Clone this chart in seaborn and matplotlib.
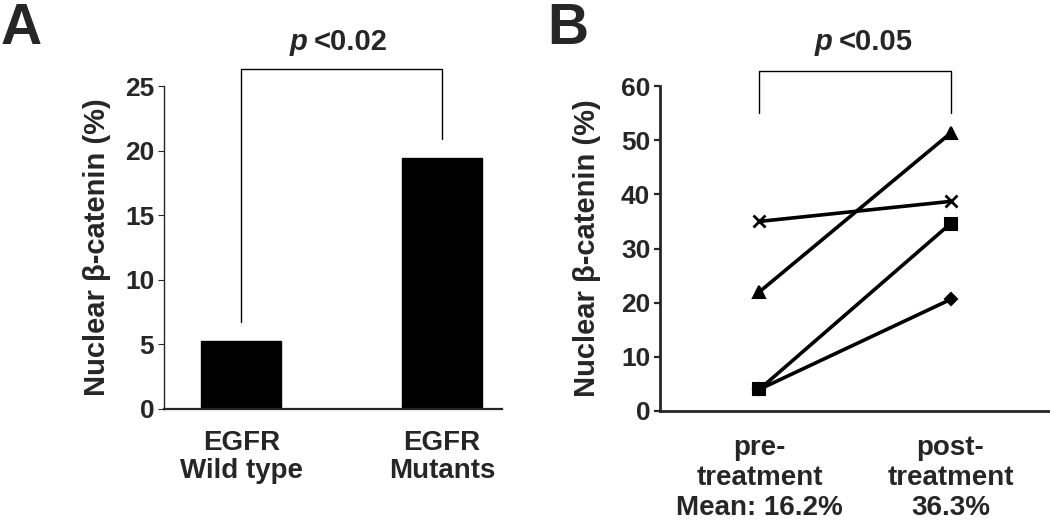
import matplotlib
matplotlib.use("Agg")
import matplotlib.pyplot as plt
import numpy as np
import pandas as pd
import seaborn as sns

# Panel A data
groups = ["EGFR\nWild type", "EGFR\nMutants"]
nuclear_pct = [5.3, 19.4]

# Panel B data (paired samples)
timepoints = ["pre-\ntreatment\nMean: 16.2%", "post-\ntreatment\n36.3%"]
patients = ["P1", "P2", "P3", "P4"]
pre_values = [35.0, 22.0, 4.0, 4.0]
post_values = [38.7, 51.3, 34.6, 20.6]
patient_markers = ["X", "^", "s", "D"]

sns.set_style("ticks")
plt.rcParams["font.family"] = ["Liberation Sans", "DejaVu Sans"]
plt.rcParams["font.weight"] = "bold"

fig = plt.figure(figsize=(10.5, 5.32), dpi=100)
W, H = 1050, 532

def px_axes(left, top, right, bottom):
    return fig.add_axes([left / W, 1 - bottom / H, (right - left) / W, (bottom - top) / H])

TICK_FS = 19
CAT_FS = 20
YLAB_FS = 21
P_FS = 21
LETTER_FS = 41

# ---------------- Panel A ----------------
axA = px_axes(164, 86, 502, 409)
dfA = pd.DataFrame({"group": groups, "value": nuclear_pct})
sns.barplot(data=dfA, x="group", y="value", color="black", width=0.4,
            saturation=1, ax=axA, edgecolor="black")
axA.set_xlim(-0.385, 1.30)
axA.set_ylim(0, 25)
axA.set_yticks([0, 5, 10, 15, 20, 25])
axA.set_xlabel("")
axA.set_ylabel("Nuclear β-catenin (%)", fontsize=YLAB_FS, fontweight="bold", labelpad=10)
axA.tick_params(axis="y", labelsize=TICK_FS, length=4, width=0.8, pad=3)
axA.tick_params(axis="x", labelsize=CAT_FS, length=0, pad=15)
for lab in axA.get_xticklabels():
    lab.set_fontweight("bold")
    lab.set_linespacing(1.1)
for lab in axA.get_yticklabels():
    lab.set_fontweight("bold")
for s in ["top", "right"]:
    axA.spines[s].set_visible(False)
axA.spines["left"].set_linewidth(1.0)
axA.spines["bottom"].set_linewidth(1.6)

# significance bracket A
axA.plot([0, 0, 1, 1], [6.7, 26.3, 26.3, 20.9], color="black", lw=1.0,
         clip_on=False, solid_joinstyle="miter")
fig.text(307 / W, 1 - 50 / H, "p", fontsize=P_FS, fontweight="bold", style="italic",
         ha="right", va="baseline")
fig.text(314 / W, 1 - 50 / H, "<0.02", fontsize=P_FS, fontweight="bold",
         ha="left", va="baseline")
fig.text(1 / W, 1 - 44 / H, "A", fontsize=LETTER_FS, fontweight="bold",
         ha="left", va="baseline")

# ---------------- Panel B ----------------
axB = px_axes(660, 86, 1050, 411)
rows = []
for i, p in enumerate(patients):
    rows.append({"patient": p, "pos": 0, "value": pre_values[i]})
    rows.append({"patient": p, "pos": 1, "value": post_values[i]})
dfB = pd.DataFrame(rows)
sns.lineplot(data=dfB, x="pos", y="value", hue="patient", style="patient",
             markers=dict(zip(patients, patient_markers)), dashes=False,
             palette=["black"] * len(patients), linewidth=2.6, markersize=9,
             markeredgewidth=1.5, markeredgecolor="black", legend=False, ax=axB)
# marker tweaks to match the original symbols
for line, m in zip(axB.get_lines(), patient_markers):
    if m == "D":
        line.set_markersize(6)
    elif m == "X":
        line.set_marker("x")
        line.set_markersize(8)
        line.set_markeredgewidth(2)
    elif m == "s":
        line.set_markersize(8)

axB.set_xlim(-0.52, 1.52)
axB.set_ylim(0, 60)
axB.set_yticks([0, 10, 20, 30, 40, 50, 60])
axB.set_xticks([0, 1])
axB.set_xticklabels(timepoints)
axB.set_xlabel("")
axB.set_ylabel("Nuclear β-catenin (%)", fontsize=YLAB_FS, fontweight="bold", labelpad=14)
axB.tick_params(axis="y", labelsize=TICK_FS, length=4, width=1.6, pad=3)
axB.tick_params(axis="x", labelsize=CAT_FS, length=0, pad=17)
for lab in axB.get_xticklabels():
    lab.set_fontweight("bold")
    lab.set_linespacing(1.22)
for lab in axB.get_yticklabels():
    lab.set_fontweight("bold")
for s in ["top", "right"]:
    axB.spines[s].set_visible(False)
for s in ["left", "bottom"]:
    axB.spines[s].set_linewidth(2.0)

# significance bracket B
axB.plot([0, 0, 1, 1], [55.0, 62.7, 62.7, 55.0], color="black", lw=1.0,
         clip_on=False, solid_joinstyle="miter")
fig.text(832 / W, 1 - 50 / H, "p", fontsize=P_FS, fontweight="bold", style="italic",
         ha="right", va="baseline")
fig.text(839 / W, 1 - 50 / H, "<0.05", fontsize=P_FS, fontweight="bold",
         ha="left", va="baseline")
fig.text(547 / W, 1 - 44 / H, "B", fontsize=LETTER_FS, fontweight="bold",
         ha="left", va="baseline")

fig.savefig("out.png", dpi=100)
